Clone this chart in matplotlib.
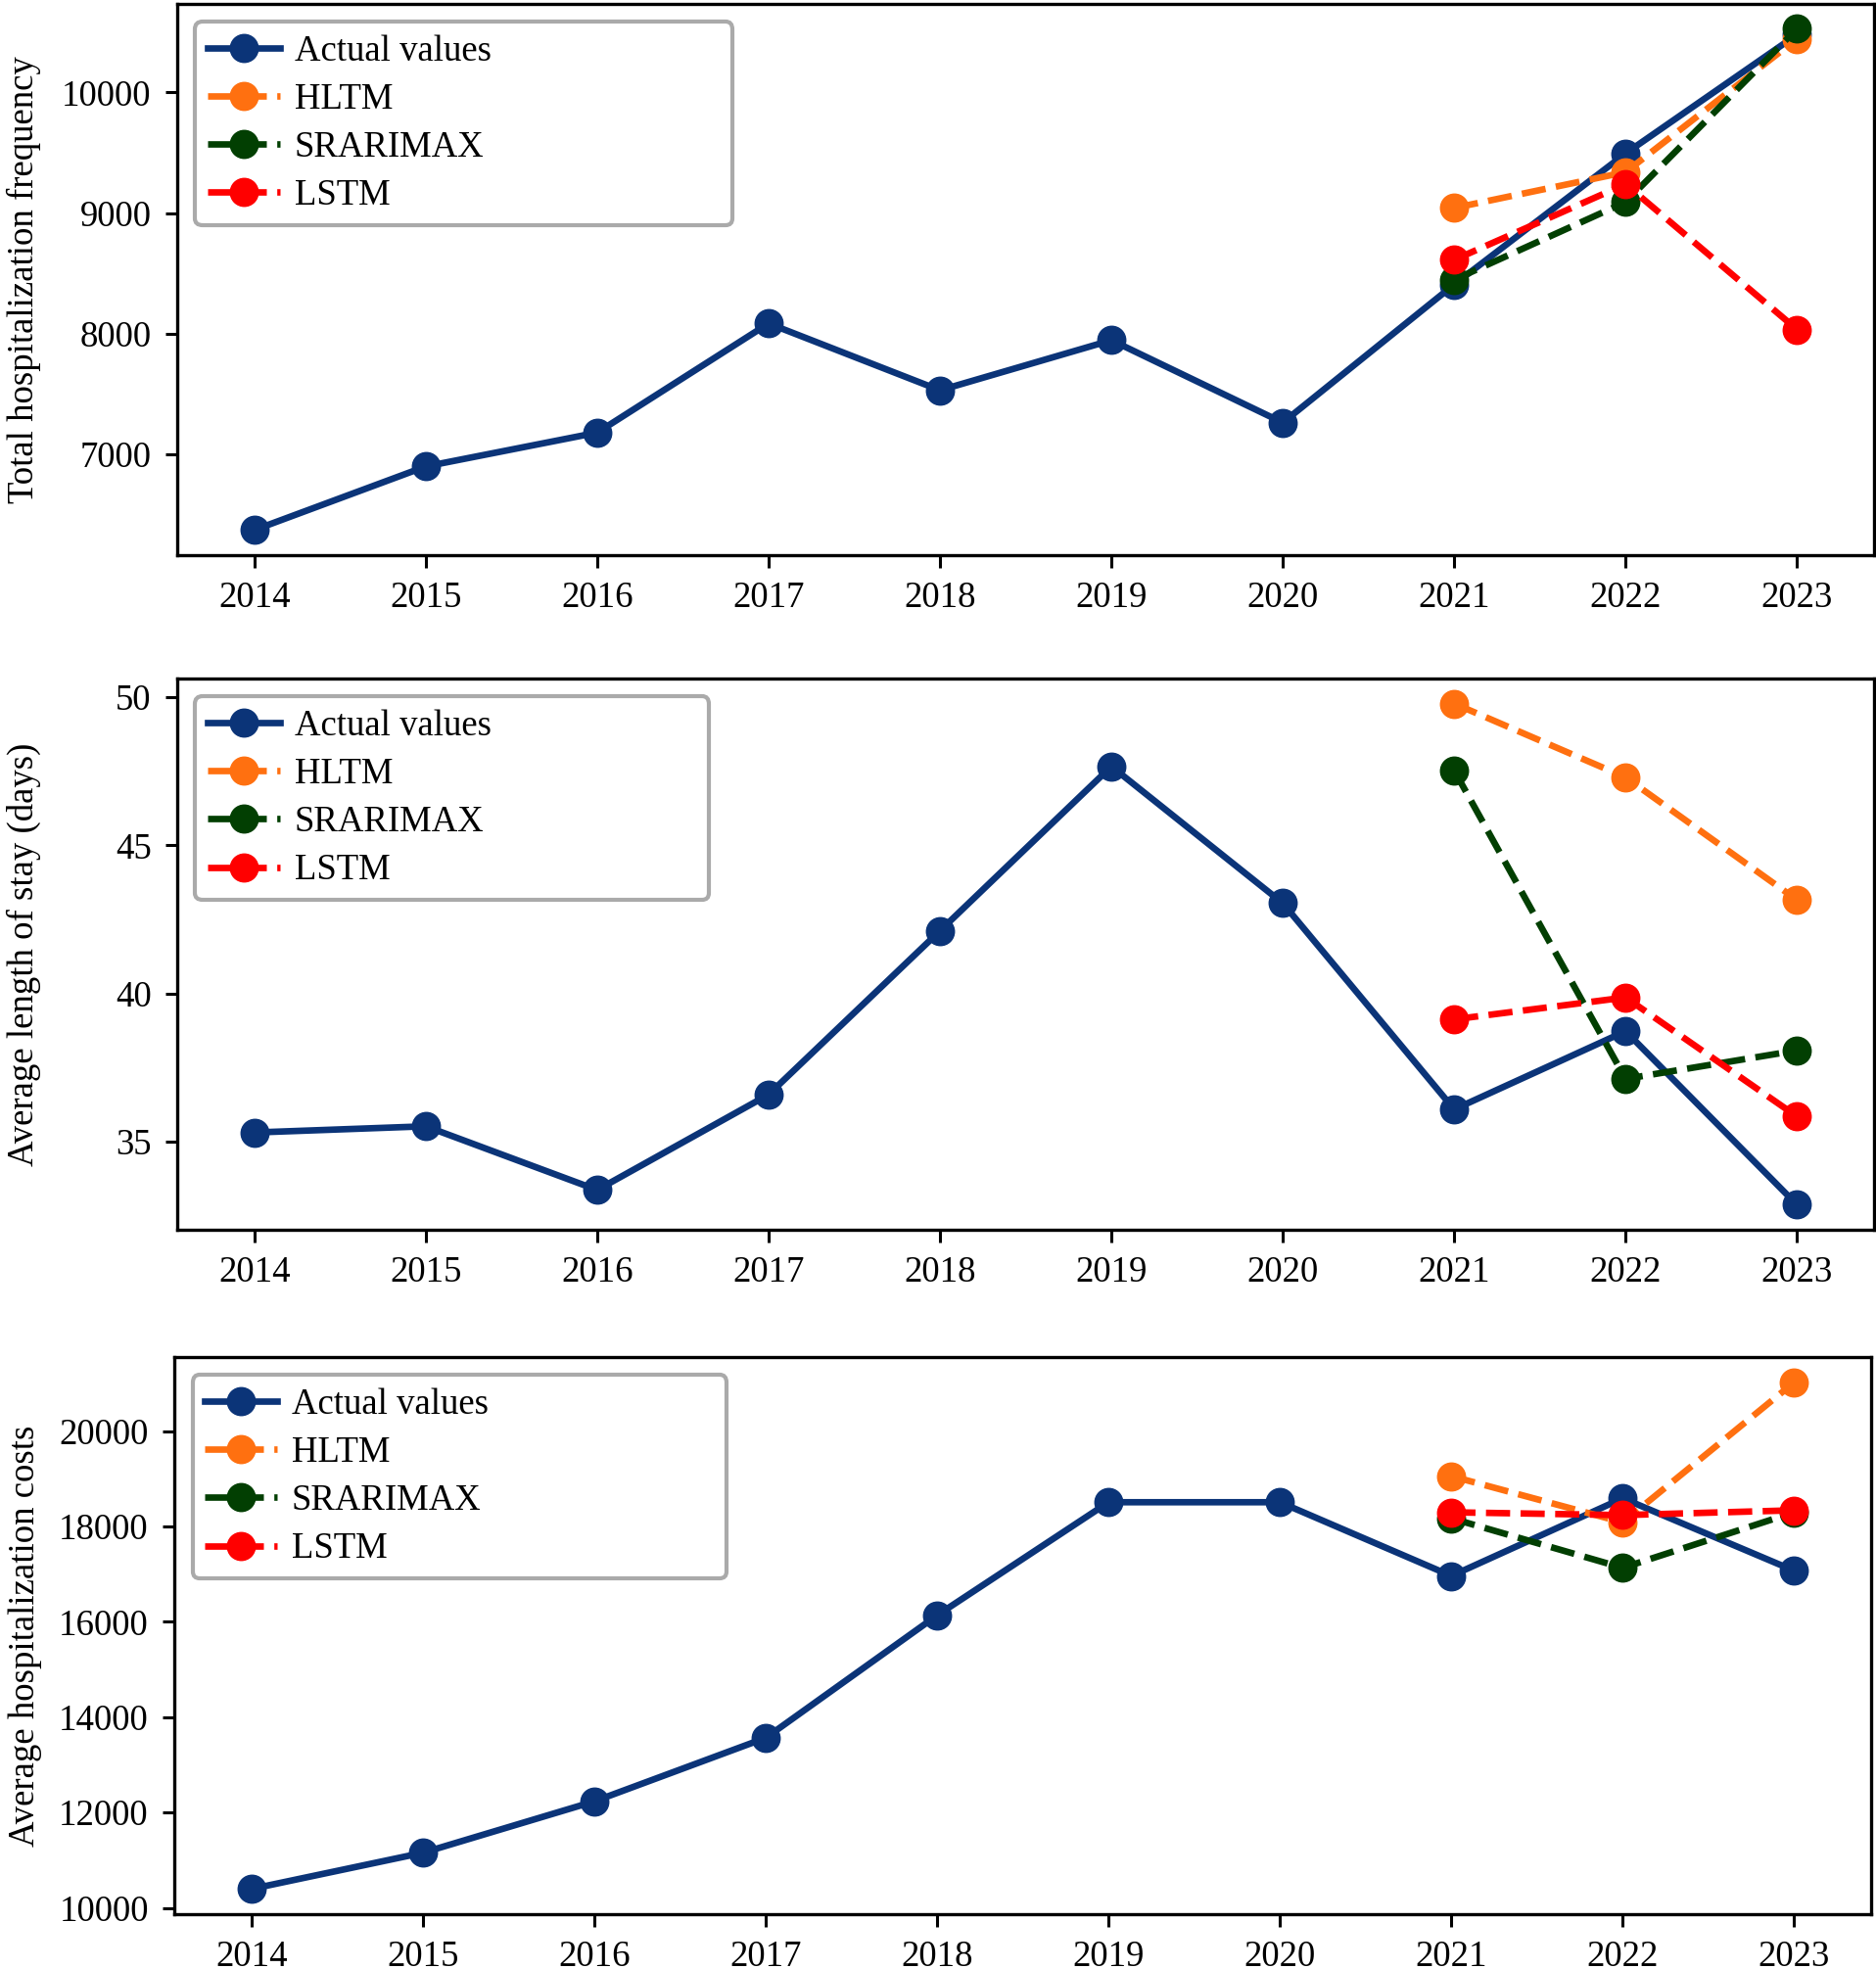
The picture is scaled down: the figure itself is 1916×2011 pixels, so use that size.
import matplotlib
matplotlib.use('Agg')
import matplotlib.pyplot as plt

# 年
years = [2014, 2015, 2016, 2017, 2018, 2019, 2020, 2021, 2022, 2023]
pred_years = [2021, 2022, 2023]

# 総入院数
freq_actual = [6374, 6901, 7181, 8086, 7532, 7947, 7264, 8409, 9495, 10480]
freq_hltm = [9043, 9340, 10445]
freq_srarimax = [8448, 9092, 10528]
freq_lstm = [8613, 9241, 8036]

# 平均在院日数
stay_actual = [35.31, 35.52, 33.37, 36.59, 42.12, 47.67, 43.05, 36.09, 38.73, 32.87]
stay_hltm = [49.79, 47.30, 43.16]
stay_srarimax = [47.53, 37.12, 38.08]
stay_lstm = [39.13, 39.87, 35.85]

# 平均入院費用
cost_actual = [10396, 11155, 12233, 13565, 16135, 18506, 18506, 16961, 18590, 17070]
cost_hltm = [19053, 18084, 21020]
cost_srarimax = [18169, 17130, 18295]
cost_lstm = [18295, 18236, 18337]

ylabels = ["Total hospitalization frequency",
           "Average length of stay (days)",
           "Average hospitalization costs"]

plt.rcParams['font.family'] = ['Liberation Serif', 'DejaVu Serif']
plt.rcParams['font.size'] = 26.5
plt.rcParams['axes.linewidth'] = 2.4

colors = {'actual': '#0b3478', 'hltm': '#ff7010', 'srarimax': '#023f02', 'lstm': '#ff0000'}

fig = plt.figure(figsize=(19.16, 20.11), dpi=100)
positions = [[0.0945, 0.7181, 0.9045, 0.2800],
             [0.0945, 0.3754, 0.9045, 0.2800],
             [0.0930, 0.0278, 0.9045, 0.2830]]
legend_widths = [0.338, 0.324, 0.336]
label_x = [-0.080, -0.080, -0.078]

panels = [
    (freq_actual, freq_hltm, freq_srarimax, freq_lstm),
    (stay_actual, stay_hltm, stay_srarimax, stay_lstm),
    (cost_actual, cost_hltm, cost_srarimax, cost_lstm),
]

lw = 4.8
ms = 20.5
for i, (act, hl, sr, ls) in enumerate(panels):
    ax = fig.add_axes(positions[i])
    ax.plot(years, act, '-o', color=colors['actual'], lw=lw, ms=ms, label='Actual values')
    ax.plot(pred_years, hl, '--o', color=colors['hltm'], lw=lw, ms=ms, label='HLTM')
    ax.plot(pred_years, sr, '--o', color=colors['srarimax'], lw=lw, ms=ms, label='SRARIMAX')
    ax.plot(pred_years, ls, '--o', color=colors['lstm'], lw=lw, ms=ms, label='LSTM')
    ax.set_xticks(years)
    ax.set_xticklabels([str(y) for y in years])
    ax.set_ylabel(ylabels[i])
    ax.yaxis.set_label_coords(label_x[i], 0.5)
    ax.tick_params(length=9, width=2.2, pad=10)
    if i == 2:
        ax.set_yticks([10000, 12000, 14000, 16000, 18000, 20000])
    leg = ax.legend(loc='upper left', bbox_to_anchor=(0, 0, legend_widths[i], 1),
                    mode='expand', fancybox=True, framealpha=1.0, edgecolor='#aaaaaa',
                    labelspacing=0.4, handletextpad=0.4, borderpad=0.35)
    leg.get_frame().set_linewidth(3)

plt.savefig('out.png', dpi=100)
plt.close()
